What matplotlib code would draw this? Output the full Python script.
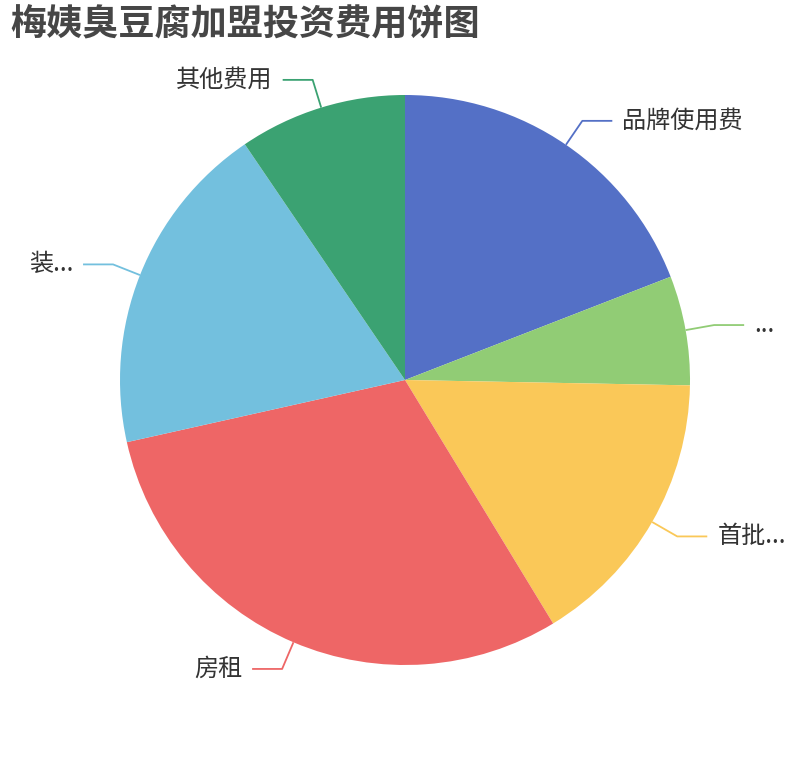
import numpy as np
import matplotlib
matplotlib.use("Agg")
import matplotlib.pyplot as plt

plt.rcParams['font.family'] = ['Noto Sans CJK SC', 'DejaVu Sans']

# data (share of total, %)
names = ['品牌使用费', '...', '首批...', '房租', '装...', '其他费用']
values = [19.1, 6.2, 16.0, 30.2, 19.0, 9.5]
colors = ['#5470c6', '#91cc75', '#fac858', '#ee6666', '#73c0de', '#3ba272']
title = '梅姨臭豆腐加盟投资费用饼图'

W, H = 810, 760
fig = plt.figure(figsize=(W / 100, H / 100), dpi=100)
ax = fig.add_axes([0, 0, 1, 1])

cx, cy, r = 405, H - 380, 285
wedges, _ = ax.pie(values, colors=colors, startangle=90, counterclock=False,
                   center=(cx, cy), radius=r, frame=True,
                   wedgeprops=dict(linewidth=0))
ax.set_xlim(0, W)
ax.set_ylim(0, H)
ax.set_aspect('equal')
ax.axis('off')

# label lines: edge -> knee -> horizontal -> text
total = sum(values)
start = 0.0
for name, v, c in zip(names, values, colors):
    mid = np.deg2rad(start + v / total * 360 / 2)
    start += v / total * 360
    sx, sy = cx + r * np.sin(mid), cy + r * np.cos(mid)
    kx, ky = cx + (r + 29) * np.sin(mid), cy + (r + 29) * np.cos(mid)
    side = 1 if np.sin(mid) >= 0 else -1
    ex = kx + side * 30
    ax.plot([sx, kx, ex], [sy, ky, ky], color=c, lw=1.3, solid_capstyle='butt')
    ax.text(ex + side * 10, ky, name, ha='left' if side > 0 else 'right',
            va='center', fontsize=17.4, color='#333333')

fig.text(10 / W, 1 - 25 / H, title, ha='left', va='center', fontsize=26,
         fontweight='bold', color='#464646')

fig.savefig('out.png', dpi=100)
